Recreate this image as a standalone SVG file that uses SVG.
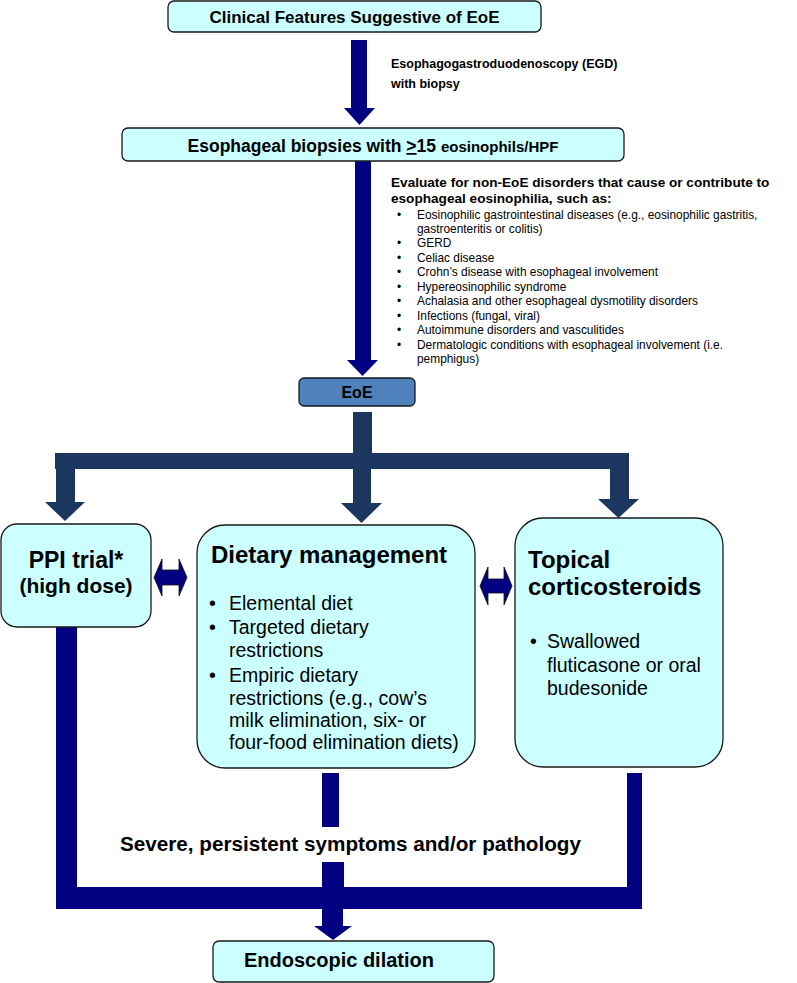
<svg xmlns="http://www.w3.org/2000/svg" width="797" height="983" viewBox="0 0 797 983">
<style>
.box{fill:#CCFFFF;stroke:#1a1a1a;stroke-width:1.3}
.eoe{fill:#4F81BD;stroke:#1a1a1a;stroke-width:1.3}
.t{font-family:"Liberation Sans",Arial,sans-serif;fill:#000}
.b{font-weight:bold}
.navy{fill:#000080}
.slate{fill:#1B3760}
.dbl{fill:#000080;stroke:#111;stroke-width:0.8}
</style>
<rect width="797" height="983" fill="#fff"/>
<g id="connectors">
  <!-- top arrow -->
  <rect class="navy" x="351" y="40" width="16" height="69"/>
  <polygon class="navy" points="344,108 375,108 359.5,125"/>
  <!-- biopsy to EoE -->
  <rect class="navy" x="355" y="160" width="16" height="201"/>
  <polygon class="navy" points="347,360 378,360 362.5,376"/>
  <!-- EoE to three branches -->
  <rect class="slate" x="353" y="412" width="19" height="42"/>
  <rect class="slate" x="55" y="453" width="574" height="16"/>
  <rect class="slate" x="56" y="468" width="19" height="35"/>
  <polygon class="slate" points="45,502 85,502 65,521"/>
  <rect class="slate" x="353" y="468" width="18" height="36"/>
  <polygon class="slate" points="341,503 382,503 361.5,523"/>
  <rect class="slate" x="610" y="468" width="19" height="32"/>
  <polygon class="slate" points="598,499 639,499 618.5,518"/>
  <!-- double arrows -->
  <polygon class="dbl" points="154,577.5 162,559 162,570 179,570 179,559 187,577.5 179,596 179,585 162,585 162,596"/>
  <polygon class="dbl" points="480,586 488,567 488,579 504,579 504,567 512,586 504,605 504,593 488,593 488,605"/>
  <!-- bottom merge -->
  <rect class="navy" x="56" y="627" width="21" height="282"/>
  <rect class="navy" x="56" y="887" width="586" height="22"/>
  <rect class="navy" x="627" y="773" width="15" height="136"/>
  <rect class="navy" x="322" y="773" width="17" height="54"/>
  <rect class="navy" x="322" y="862" width="22" height="26"/>
  <rect class="navy" x="322" y="908" width="21" height="19"/>
  <polygon class="navy" points="314,926 352,926 333,940"/>
</g>
<g id="label-egd">
  <text class="t b" x="391" y="68" font-size="12.5">Esophagogastroduodenoscopy (EGD)</text>
  <text class="t b" x="391" y="88" font-size="12.5">with biopsy</text>
</g>
<g id="label-evaluate">
  <text class="t b" x="391" y="187" font-size="13.6">Evaluate for non-EoE disorders that cause or contribute to</text>
  <text class="t b" x="391" y="203" font-size="13.6">esophageal eosinophilia, such as:</text>
  <g class="t" font-size="11.9">
    <text x="397" y="219">•</text><text x="417" y="219">Eosinophilic gastrointestinal diseases (e.g., eosinophilic gastritis,</text>
    <text x="417" y="233">gastroenteritis or colitis)</text>
    <text x="397" y="247">•</text><text x="417" y="247">GERD</text>
    <text x="397" y="262">•</text><text x="417" y="262">Celiac disease</text>
    <text x="397" y="276">•</text><text x="417" y="276">Crohn’s disease with esophageal involvement</text>
    <text x="397" y="291">•</text><text x="417" y="291">Hypereosinophilic syndrome</text>
    <text x="397" y="305">•</text><text x="417" y="305">Achalasia and other esophageal dysmotility disorders</text>
    <text x="397" y="320">•</text><text x="417" y="320">Infections (fungal, viral)</text>
    <text x="397" y="334">•</text><text x="417" y="334">Autoimmune disorders and vasculitides</text>
    <text x="397" y="349">•</text><text x="417" y="349">Dermatologic conditions with esophageal involvement (i.e.</text>
    <text x="417" y="363">pemphigus)</text>
  </g>
</g>
<g id="node-clinical">
  <rect class="box" x="168" y="1" width="373" height="31" rx="6"/>
  <text class="t b" x="354.5" y="23" font-size="17" text-anchor="middle">Clinical Features Suggestive of EoE</text>
</g>
<g id="node-biopsies">
  <rect class="box" x="122" y="128" width="502" height="33" rx="6"/>
  <text class="t b" x="373" y="152" font-size="17.5" text-anchor="middle">Esophageal biopsies with <tspan text-decoration="underline">&gt;</tspan>15 <tspan font-size="15">eosinophils/HPF</tspan></text>
</g>
<g id="node-eoe">
  <rect class="eoe" x="299" y="378" width="116" height="28" rx="5"/>
  <text class="t b" x="357" y="398" font-size="16" text-anchor="middle" fill="#111">EoE</text>
</g>
<g id="node-ppi">
  <rect class="box" x="1" y="524" width="150" height="103" rx="16"/>
  <text class="t b" x="76" y="568" font-size="23" text-anchor="middle">PPI trial*</text>
  <text class="t b" x="76" y="593" font-size="21" text-anchor="middle">(high dose)</text>
</g>
<g id="node-dietary">
  <rect class="box" x="197" y="525" width="278" height="243" rx="28"/>
  <text class="t b" x="211" y="563" font-size="24">Dietary management</text>
  <g class="t" font-size="19.5">
    <text x="209" y="610">•</text><text x="229" y="610">Elemental diet</text>
    <text x="209" y="634">•</text><text x="229" y="634">Targeted dietary</text>
    <text x="229" y="657">restrictions</text>
    <text x="209" y="682">•</text><text x="229" y="682">Empiric dietary</text>
    <text x="229" y="705">restrictions (e.g., cow’s</text>
    <text x="229" y="727">milk elimination, six- or</text>
    <text x="229" y="749">four-food elimination diets)</text>
  </g>
</g>
<g id="node-topical">
  <rect class="box" x="515" y="518" width="208" height="249" rx="28"/>
  <text class="t b" x="528" y="568" font-size="24">Topical</text>
  <text class="t b" x="528" y="595" font-size="24">corticosteroids</text>
  <g class="t" font-size="19.5">
    <text x="530" y="648">•</text><text x="547" y="648">Swallowed</text>
    <text x="547" y="672">fluticasone or oral</text>
    <text x="547" y="695">budesonide</text>
  </g>
</g>
<g id="label-severe">
  <text class="t b" x="120" y="851" font-size="20.7">Severe, persistent symptoms and/or pathology</text>
</g>
<g id="node-dilation">
  <rect class="box" x="213" y="941" width="281" height="41" rx="6"/>
  <text class="t b" x="244" y="967" font-size="20">Endoscopic dilation</text>
</g>
</svg>
